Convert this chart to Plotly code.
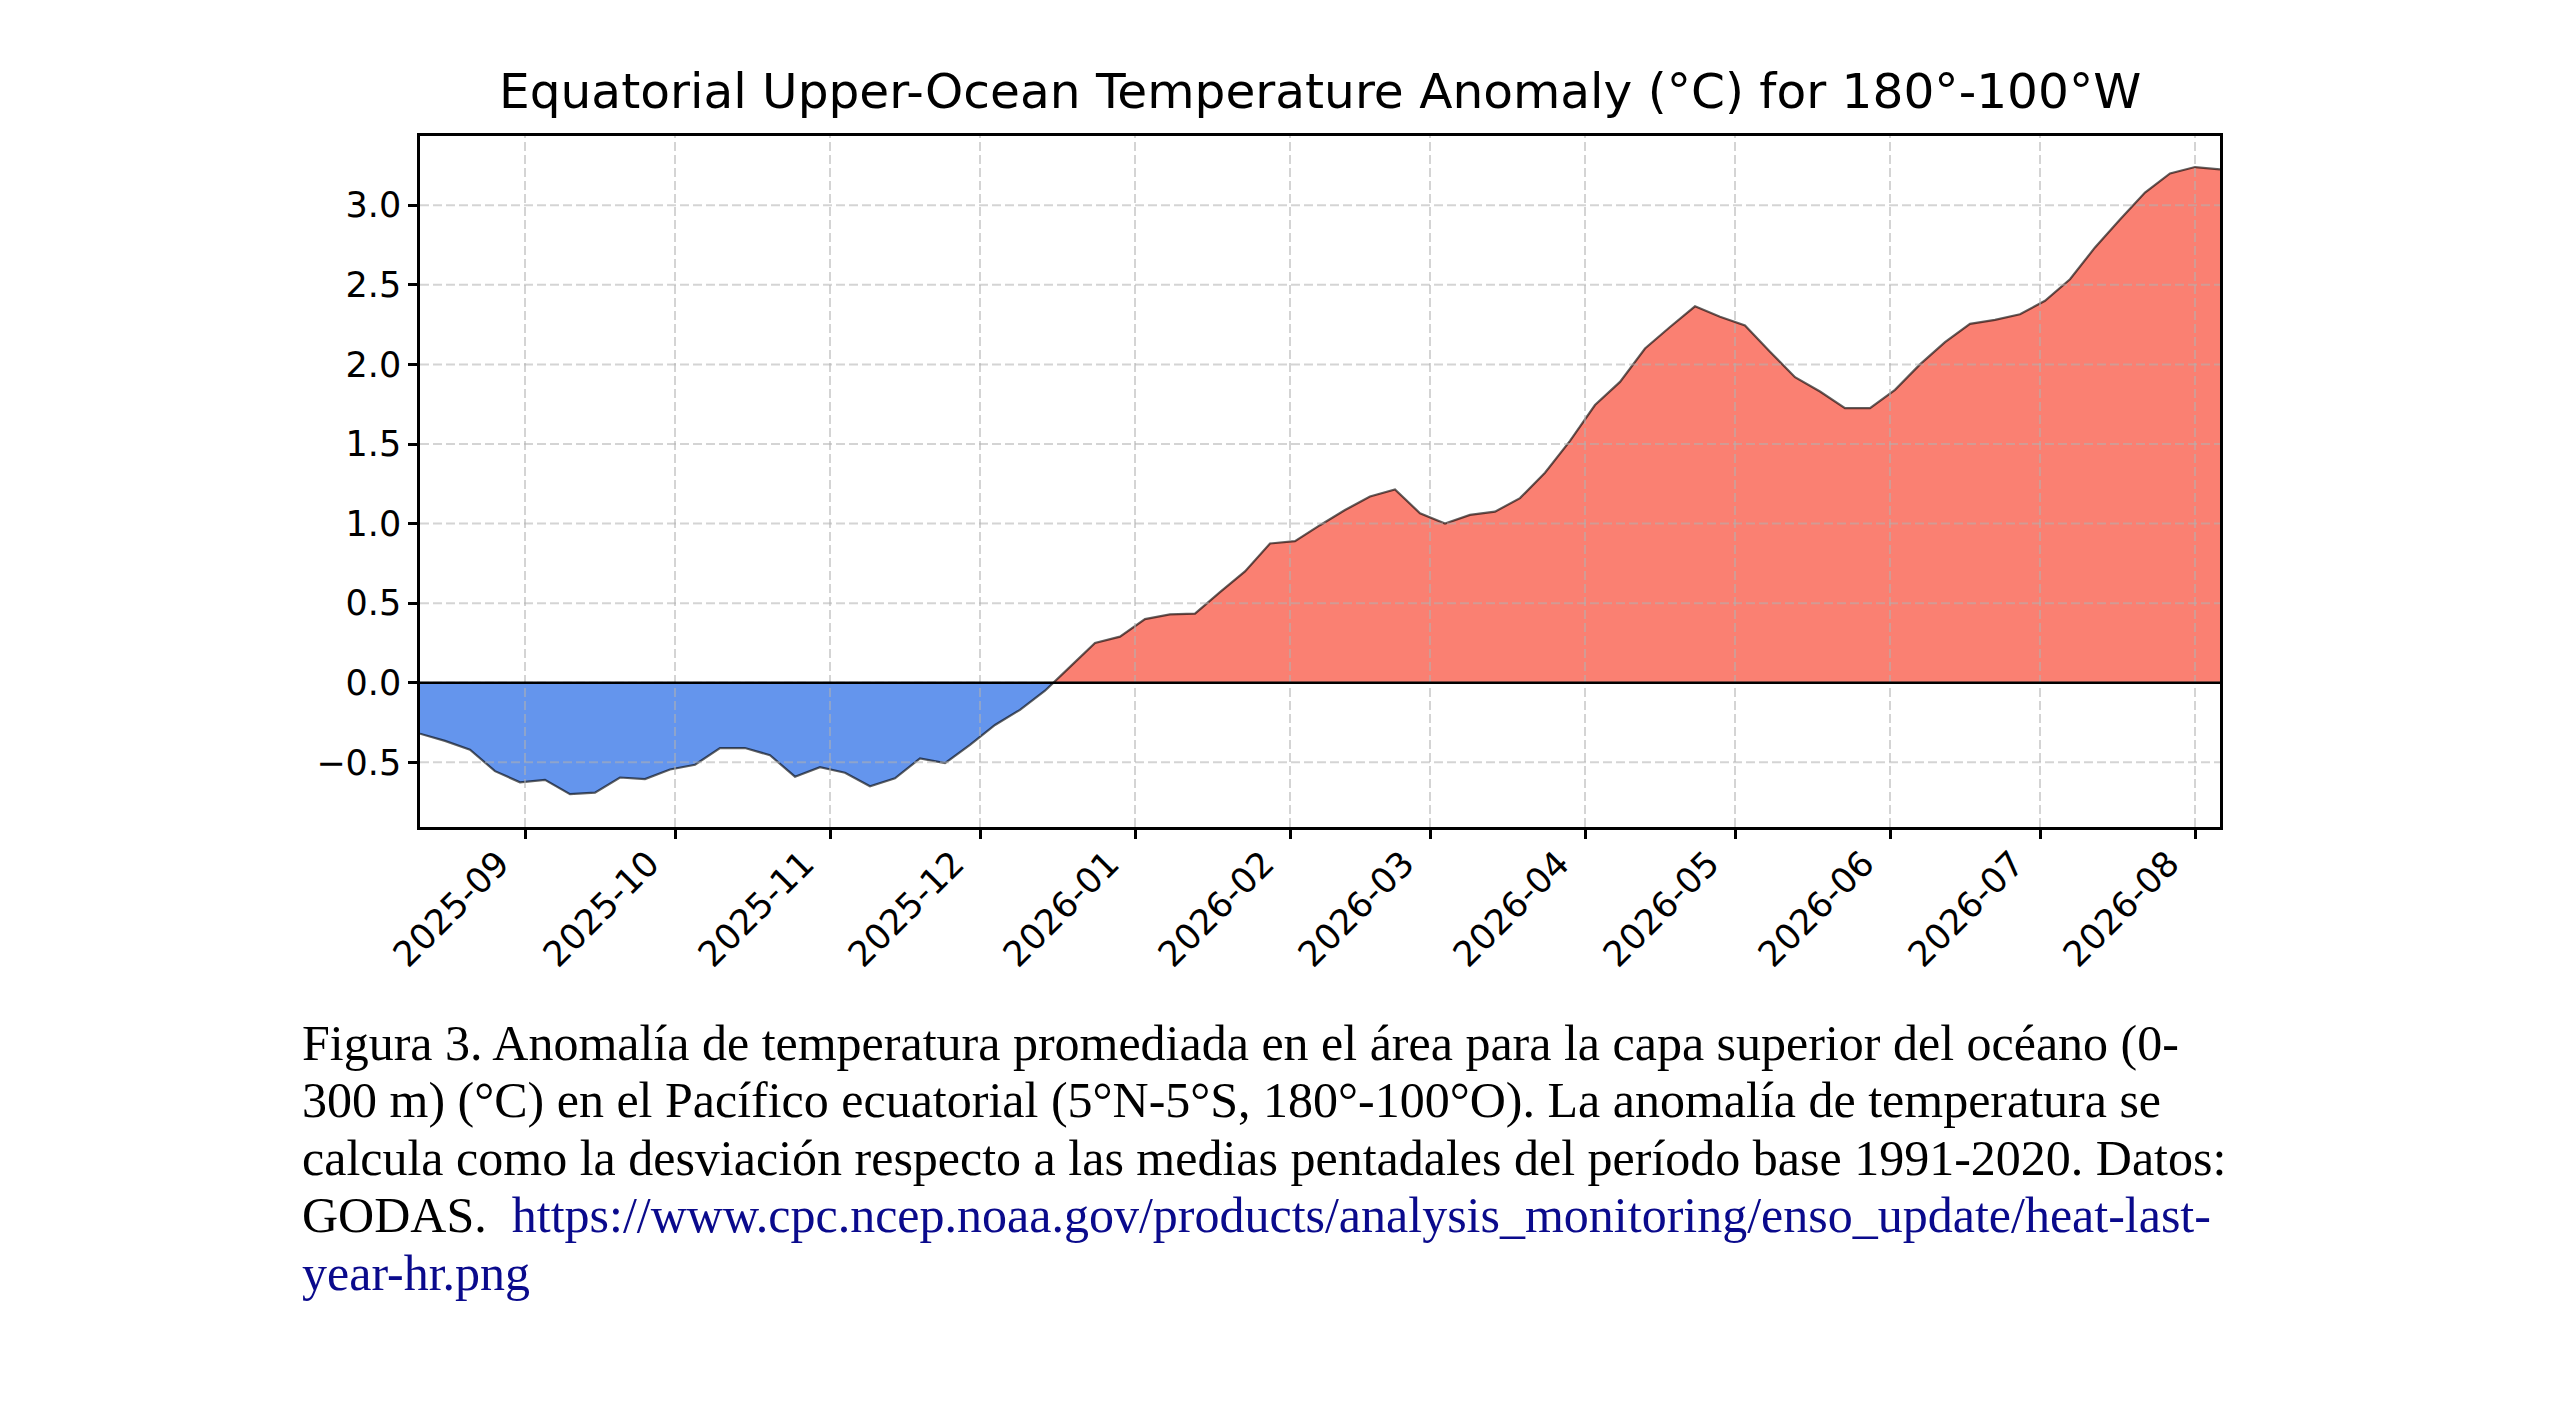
import numpy as np
import pandas as pd
import plotly.graph_objects as go

# ---------------- data (pentad values) ----------------
dates = [
    "2025-08-11", "2025-08-16", "2025-08-21", "2025-08-26", "2025-08-31",
    "2025-09-05", "2025-09-10", "2025-09-15", "2025-09-20", "2025-09-25", "2025-09-30",
    "2025-10-05", "2025-10-10", "2025-10-15", "2025-10-20", "2025-10-25", "2025-10-30",
    "2025-11-04", "2025-11-09", "2025-11-14", "2025-11-19", "2025-11-24", "2025-11-29",
    "2025-12-04", "2025-12-09", "2025-12-14", "2025-12-19", "2025-12-24", "2025-12-29",
    "2026-01-03", "2026-01-08", "2026-01-13", "2026-01-18", "2026-01-23", "2026-01-28",
    "2026-02-02", "2026-02-07", "2026-02-12", "2026-02-17", "2026-02-22", "2026-02-27",
    "2026-03-04", "2026-03-09", "2026-03-14", "2026-03-19", "2026-03-24", "2026-03-29",
    "2026-04-03", "2026-04-08", "2026-04-13", "2026-04-18", "2026-04-23", "2026-04-28",
    "2026-05-03", "2026-05-08", "2026-05-13", "2026-05-18", "2026-05-23", "2026-05-28",
    "2026-06-02", "2026-06-07", "2026-06-12", "2026-06-17", "2026-06-22", "2026-06-27",
    "2026-07-02", "2026-07-07", "2026-07-12", "2026-07-17", "2026-07-22", "2026-07-27",
    "2026-08-01", "2026-08-06",
]

anomaly = [
    -0.32, -0.365, -0.42, -0.555, -0.625,
    -0.61, -0.70, -0.69, -0.595, -0.605, -0.545,
    -0.515, -0.41, -0.41, -0.455, -0.59, -0.53,
    -0.565, -0.65, -0.60, -0.475, -0.505, -0.39,
    -0.265, -0.17, -0.05, 0.10, 0.25, 0.29,
    0.40, 0.43, 0.435, 0.57, 0.70, 0.875,
    0.89, 0.99, 1.085, 1.17, 1.215, 1.065,
    1.00, 1.055, 1.075, 1.16, 1.32, 1.52,
    1.745, 1.89, 2.10, 2.235, 2.365, 2.30,
    2.245, 2.08, 1.92, 1.83, 1.725, 1.725,
    1.84, 2.00, 2.14, 2.255, 2.28, 2.315,
    2.40, 2.535, 2.735, 2.91, 3.08, 3.20,
    3.24, 3.225,
]

x_tick_vals = [
    "2025-09-01", "2025-10-01", "2025-11-01", "2025-12-01", "2026-01-01", "2026-02-01",
    "2026-03-01", "2026-04-01", "2026-05-01", "2026-06-01", "2026-07-01", "2026-08-01",
]
x_tick_text = [
    "2025-09", "2025-10", "2025-11", "2025-12", "2026-01", "2026-02",
    "2026-03", "2026-04", "2026-05", "2026-06", "2026-07", "2026-08",
]
y_tick_vals = [-0.5, 0.0, 0.5, 1.0, 1.5, 2.0, 2.5, 3.0]
y_tick_text = ["\u22120.5", "0.0", "0.5", "1.0", "1.5", "2.0", "2.5", "3.0"]

title_text = "Equatorial Upper-Ocean Temperature Anomaly (°C) for 180°-100°W"
LINK = "#0a0a8c"
caption_lines = [
    "Figura 3. Anomalía de temperatura promediada en el área para la capa superior del océano (0-",
    "300 m) (°C) en el Pacífico ecuatorial (5°N-5°S, 180°-100°O). La anomalía de temperatura se",
    "calcula como la desviación respecto a las medias pentadales del período base 1991-2020. Datos:",
    "GODAS.&nbsp; <span style='color:" + LINK + "'>https://www.cpc.ncep.noaa.gov/products/analysis_monitoring/enso_update/heat-last-</span>",
    "<span style='color:" + LINK + "'>year-hr.png</span>",
]

# ---------------- build fills split at zero (interpolated crossings) ----------------
xd = pd.to_datetime(dates)
v = np.array(anomaly, dtype=float)
xs, ys = [xd[0]], [v[0]]
for i in range(1, len(v)):
    if v[i - 1] * v[i] < 0:
        frac = v[i - 1] / (v[i - 1] - v[i])
        xs.append(xd[i - 1] + (xd[i] - xd[i - 1]) * frac)
        ys.append(0.0)
    xs.append(xd[i])
    ys.append(v[i])
ys = np.array(ys)
pos = np.where(ys >= 0, ys, 0.0)
neg = np.where(ys <= 0, ys, 0.0)

fig = go.Figure()
fig.add_trace(go.Scatter(x=xs, y=neg, mode="lines", fill="tozeroy",
                         fillcolor="#6495ED", line=dict(width=0, color="#6495ED"),
                         hoverinfo="skip", showlegend=False))
fig.add_trace(go.Scatter(x=xs, y=pos, mode="lines", fill="tozeroy",
                         fillcolor="#FA8072", line=dict(width=0, color="#FA8072"),
                         hoverinfo="skip", showlegend=False))
fig.add_trace(go.Scatter(x=xd, y=v, mode="lines",
                         line=dict(color="rgba(0,0,0,0.62)", width=2.2),
                         showlegend=False))

# ---------------- grid (drawn above fills, like matplotlib) ----------------
grid_line = dict(color="rgba(176,176,176,0.55)", width=2, dash="9px,4px")
shapes = []
for d in x_tick_vals:
    shapes.append(dict(type="line", xref="x", yref="paper", x0=d, x1=d, y0=0, y1=1,
                       line=grid_line, layer="above"))
for yv in y_tick_vals:
    shapes.append(dict(type="line", xref="paper", yref="y", x0=0, x1=1, y0=yv, y1=yv,
                       line=grid_line, layer="above"))
shapes.append(dict(type="line", xref="paper", yref="y", x0=0, x1=1, y0=0, y1=0,
                   line=dict(color="black", width=2.5), layer="above"))

tick_font = dict(family="DejaVu Sans", size=35, color="black")
axis_common = dict(showline=True, mirror=True, linecolor="black", linewidth=2.5,
                   ticks="outside", ticklen=9, tickwidth=2.5, tickcolor="black",
                   showgrid=False, zeroline=False, tickfont=tick_font,
                   layer="above traces")

# plot area in page pixels (page is offset by the 8px body margin)
PLOT_TOP, PLOT_H = 135.7, 691.0


def page_to_paper_y(ypx):
    return 1.0 - (ypx - PLOT_TOP) / PLOT_H


annotations = [
    dict(text=title_text, xref="paper", yref="paper", x=0.5, y=1.021,
         xanchor="center", yanchor="bottom", showarrow=False,
         font=dict(family="DejaVu Sans", size=48.6, color="black")),
]
CAP_SIZE = 50
first_baseline, line_step = 1058.0, 57.5
for i, line in enumerate(caption_lines):
    baseline = first_baseline + i * line_step
    top = baseline - (0.891 * CAP_SIZE + 1)
    annotations.append(dict(text=line, xref="paper", yref="paper",
                            x=-0.0664, y=page_to_paper_y(top),
                            xanchor="left", yanchor="top", align="left",
                            showarrow=False,
                            font=dict(family="Liberation Serif", size=CAP_SIZE,
                                      color="black")))

fig.update_layout(
    width=2534, height=1386,
    margin=dict(l=412, r=322, t=128, b=567, pad=0),
    paper_bgcolor="white", plot_bgcolor="white",
    showlegend=False,
    shapes=shapes,
    xaxis=dict(type="date", range=[xd[0], xd[-1]], tickmode="array",
               tickvals=x_tick_vals, ticktext=x_tick_text, tickangle=-45,
               ticklabelshift=-26, ticklabelstandoff=-10,
               **axis_common),
    yaxis=dict(range=[-0.906, 3.435], tickmode="array",
               tickvals=y_tick_vals, ticktext=y_tick_text, **axis_common),
    annotations=annotations,
)

fig.write_html("out.html")
